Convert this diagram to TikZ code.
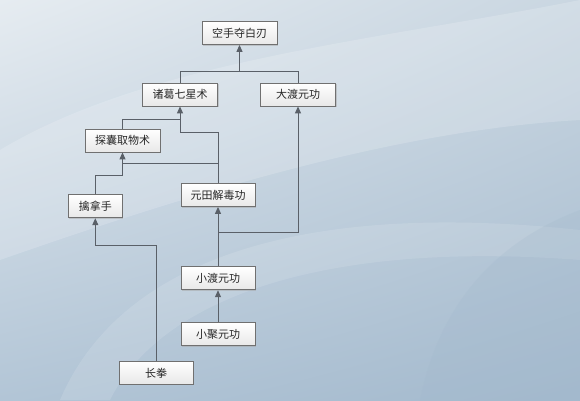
\documentclass[tikz,border=0pt]{standalone}
\usepackage{fontspec}
\newfontfamily\cjk{Noto Sans CJK SC}
\usepackage{tikz}
\usetikzlibrary{arrows.meta,shadows,shadings}

\definecolor{linegray}{HTML}{5A6068}
\definecolor{boxline}{HTML}{707070}
\definecolor{bgA}{HTML}{E6ECF1}
\definecolor{bgB}{HTML}{C9D6E1}
\definecolor{bgC}{HTML}{B2C5D6}
\definecolor{bgD}{HTML}{A3B9CD}

\tikzset{
  skill/.style={draw=boxline, line width=0.8pt, top color=white, bottom color=black!9,
    minimum width=75pt, minimum height=23pt, inner sep=2pt,
    font=\cjk\fontsize{11}{13}\selectfont, text=black!85,
    drop shadow={shadow xshift=1pt, shadow yshift=-1pt, fill=black!35, opacity=0.5}},
  link/.style={draw=linegray, line width=1pt},
  uplink/.style={link, -{Triangle[width=6pt,length=7pt]}}
}

\begin{document}
\begin{tikzpicture}[x=1pt,y=-1pt]

\useasboundingbox (0,0) rectangle (580,400);
\shade[upper left=bgA, upper right=bgB, lower left=bgC, lower right=bgD] (0,0) rectangle (580,400);
\fill[white, opacity=0.18] (0,150) .. controls (150,60) and (380,40) .. (580,0) -- (580,120) .. controls (400,130) and (200,190) .. (0,260) -- cycle;
\fill[white, opacity=0.12] (60,400) .. controls (120,260) and (300,200) .. (580,230) -- (580,260) .. controls (320,240) and (160,300) .. (110,400) -- cycle;
\fill[bgD, opacity=0.25] (420,400) .. controls (440,300) and (500,240) .. (580,210) -- (580,400) -- cycle;

\node[skill] (kongshou) at (239.5,33) {空手夺白刃};
\node[skill] (zhuge) at (180,94.5) {诸葛七星术};
\node[skill] (dadu) at (298,94.5) {大渡元功};
\node[skill] (tannang) at (122.5,140.5) {探囊取物术};
\node[skill, minimum width=54pt] (qinna) at (95.3,206.3) {擒拿手};
\node[skill, minimum width=74pt] (yuantian) at (218,195) {元田解毒功};
\node[skill, minimum width=74pt] (xiaodu) at (218,278.3) {小渡元功};
\node[skill, minimum width=74pt] (xiaoju) at (218,334.2) {小聚元功};
\node[skill, minimum width=74pt] (changquan) at (156,372.8) {长拳};

\coordinate (top) at (kongshou.south |- 0,71);
\coordinate (zgin) at (zhuge.south |- 0,119);
\coordinate (tnin) at (tannang.south |- 0,163.3);
\coordinate (ytin) at (yuantian.south |- 0,232.3);

\draw[uplink] (zhuge.north) |- (top) -- (kongshou.south);
\draw[link] (dadu.north) |- (top);

\draw[uplink] (tannang.north) |- (zgin) -- (zhuge.south);
\draw[link] (yuantian.north) -- (yuantian.north |- 0,132) -| (zgin);

\draw[uplink] (yuantian.north |- tnin) -- (tnin) -- (tannang.south);
\draw[link] (qinna.north) |- (tannang.south |- 0,175.7) -- (tnin);

\draw[uplink] (changquan.north) |- (qinna.south |- 0,245) -- (qinna.south);

\draw[uplink] (xiaodu.north) -- (yuantian.south);
\draw[uplink] (ytin) -| (dadu.south);

\draw[uplink] (xiaoju.north) -- (xiaodu.south);

\end{tikzpicture}
\end{document}
